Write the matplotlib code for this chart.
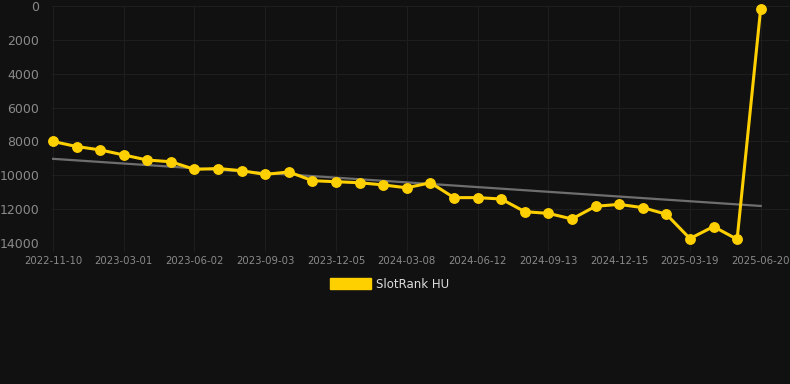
import numpy as np
import matplotlib
matplotlib.use('Agg')
import matplotlib.pyplot as plt
from matplotlib.patches import Patch

dates = ['2022-11-10', '2022-12-17', '2023-01-23', '2023-03-01', '2023-04-01',
         '2023-05-02', '2023-06-02', '2023-07-03', '2023-08-03', '2023-09-03',
         '2023-10-04', '2023-11-04', '2023-12-05', '2024-01-05', '2024-02-06',
         '2024-03-08', '2024-04-09', '2024-05-11', '2024-06-12', '2024-07-13',
         '2024-08-13', '2024-09-13', '2024-10-14', '2024-11-14', '2024-12-15',
         '2025-01-15', '2025-02-16', '2025-03-19', '2025-04-19', '2025-05-20',
         '2025-06-20']
rank = [8000, 8300, 8500, 8800, 9100, 9200, 9650, 9600, 9730, 9950,
        9800, 10320, 10380, 10440, 10570, 10740, 10440, 11320, 11320, 11400,
        12150, 12250, 12580, 11830, 11720, 11910, 12300, 13740, 13030, 13780,
        150]
y_ticks = [0, 2000, 4000, 6000, 8000, 10000, 12000, 14000]
series_name = 'SlotRank HU'

bg = '#111111'
gold = '#FFD000'
grid_col = '#1e1e1e'

fig = plt.figure(figsize=(7.9, 3.84), dpi=100, facecolor=bg)
ax = fig.add_axes([52 / 790, 1 - 243 / 384, 737 / 790, 237 / 384])
ax.set_facecolor(bg)

x = np.arange(len(dates))

# trend line (least squares over all points)
k, b = np.polyfit(x, rank, 1)
ax.plot(x, k * x + b, color='#6e6e6e', linewidth=1.6, zorder=2)

ax.plot(x, rank, color=gold, linewidth=2.2, marker='o', markersize=6.8,
        zorder=3, clip_on=False)

ax.set_xlim(-0.04, 31.2)
ax.set_ylim(14000, 0)
ax.set_yticks(y_ticks)
ax.set_yticklabels([str(v) for v in y_ticks])
ax.set_xticks(x[::3])
ax.set_xticklabels(dates[::3])

ax.grid(True, color=grid_col, linewidth=0.8)
ax.set_axisbelow(True)
for s in ax.spines.values():
    s.set_visible(False)

ax.tick_params(axis='y', length=0, pad=9, labelsize=9, labelcolor='#8a8a8a')
ax.tick_params(axis='x', length=6, width=0.8, color=grid_col, pad=3,
               labelsize=7.3, labelcolor='#8a8a8a')

fig.legend(handles=[Patch(facecolor=gold, edgecolor=gold)], labels=[series_name],
           loc='center', bbox_to_anchor=(390 / 790, 1 - 284 / 384),
           frameon=False, fontsize=8.5, labelcolor='#dddddd',
           handlelength=3.4, handleheight=1.0, handletextpad=0.5)

fig.savefig('out.png', dpi=100, facecolor=bg)
